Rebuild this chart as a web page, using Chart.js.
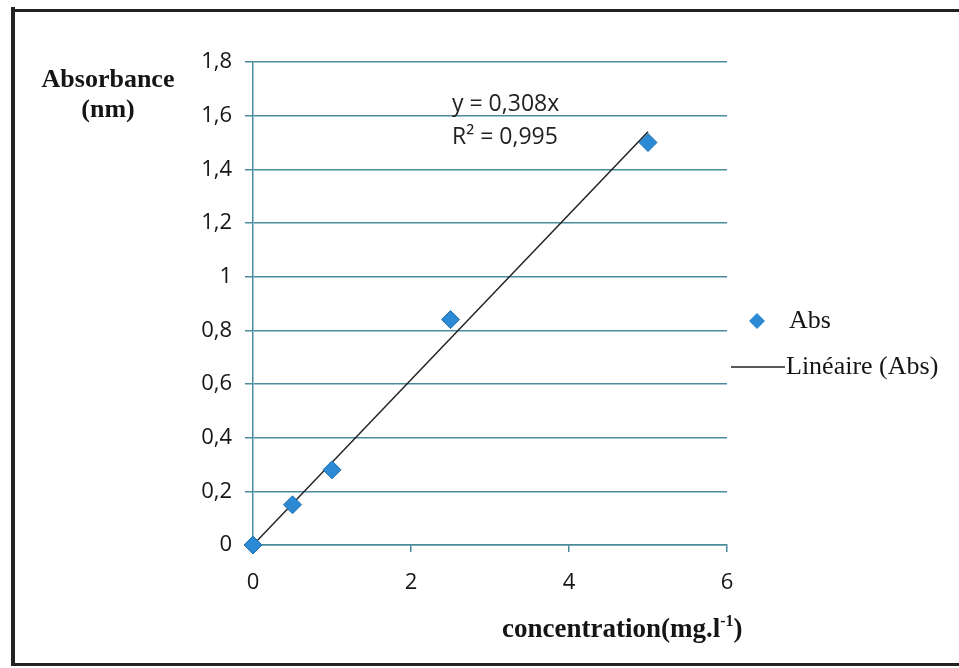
<!DOCTYPE html>
<html>
<head>
<meta charset="utf-8">
<script src="https://cdn.jsdelivr.net/npm/chart.js@4/dist/chart.umd.min.js"></script>
<style>
  html, body { margin: 0; padding: 0; background: #fff; }
  #wrap { width: 959px; height: 668px; position: relative; }
</style>
</head>
<body>
<div id="wrap"><canvas id="calib" width="959" height="668"></canvas></div>
<script>
// calibration data
const concentration = [0, 0.5, 1, 2.5, 5];
const absorbance = [0, 0.15, 0.28, 0.84, 1.5];
// linear fit through origin
const slope = 0.308;
const rSquared = 0.995;

const yMax = 1.8;
const yStep = 0.2;
const xMax = 6;
const xStep = 2;

const gridColor = "#4a8c9c";
const markerColor = "#2b8ad3";
const markerEdge = "#1f6fae";
const inkColor = "#151515";

const fmt = (v) => String(Number(v.toFixed(3))).replace(".", ",");

const points = concentration.map((c, i) => ({ x: c, y: absorbance[i] }));
const xFitEnd = Math.max(...concentration);
const fitLine = [
    { x: 0, y: 0 },
    { x: xFitEnd, y: slope * xFitEnd },
];

// titles, equation, legend and frame
const decor = {
    id: "decor",
    afterDraw(chart) {
        const ctx = chart.ctx;
        ctx.save();

        // frame
        ctx.fillStyle = "#222";
        ctx.fillRect(11, 7, 4, 659);
        ctx.fillRect(11, 9, 948, 3);
        ctx.fillRect(11, 663, 948, 3);

        ctx.fillStyle = inkColor;
        ctx.textBaseline = "middle";

        // y axis title
        ctx.font = "bold 26px 'Liberation Serif'";
        ctx.textAlign = "center";
        ctx.fillText("Absorbance", 108, 80);
        ctx.fillText("(nm)", 108, 110);

        // x axis title with superscript
        ctx.textAlign = "left";
        const base = "concentration(mg.l";
        let x = 502;
        const y = 630;
        ctx.font = "bold 27px 'Liberation Serif'";
        ctx.fillText(base, x, y);
        x += ctx.measureText(base).width;
        ctx.font = "bold 16px 'Liberation Serif'";
        ctx.fillText("-1", x, y - 8);
        x += ctx.measureText("-1").width;
        ctx.font = "bold 27px 'Liberation Serif'";
        ctx.fillText(")", x, y);

        // trendline equation
        ctx.font = "23px 'Open Sans'";
        ctx.fillStyle = "#222";
        ctx.fillText("y = " + fmt(slope) + "x", 452, 104);
        ctx.fillText("R² = " + fmt(rSquared), 452, 137);

        // legend
        ctx.fillStyle = markerColor;
        ctx.beginPath();
        ctx.moveTo(757, 313);
        ctx.lineTo(765, 321);
        ctx.lineTo(757, 329);
        ctx.lineTo(749, 321);
        ctx.closePath();
        ctx.fill();

        ctx.strokeStyle = "#222";
        ctx.lineWidth = 1.5;
        ctx.beginPath();
        ctx.moveTo(731, 367);
        ctx.lineTo(785, 367);
        ctx.stroke();

        ctx.fillStyle = inkColor;
        ctx.font = "26px 'Liberation Serif'";
        ctx.fillText(chart.data.datasets[0].label, 789, 321);
        ctx.fillText(chart.data.datasets[1].label, 786, 367);

        ctx.restore();
    },
};

new Chart(document.getElementById("calib"), {
    type: "scatter",
    data: {
        datasets: [
            {
                label: "Abs",
                data: points,
                pointStyle: "rectRot",
                pointRadius: 9,
                backgroundColor: markerColor,
                borderColor: markerEdge,
                borderWidth: 1,
                clip: false,
                order: 1,
            },
            {
                label: "Linéaire (Abs)",
                type: "line",
                data: fitLine,
                showLine: true,
                pointRadius: 0,
                borderColor: "#222",
                borderWidth: 1.5,
                fill: false,
                order: 2,
            },
        ],
    },
    options: {
        responsive: false,
        animation: false,
        layout: {
            padding: { left: 0, top: 62, right: 232, bottom: 63 },
        },
        plugins: {
            legend: { display: false },
            tooltip: { enabled: false },
        },
        scales: {
            x: {
                type: "linear",
                min: 0,
                max: xMax,
                afterFit: (s) => { s.height = 60; },
                ticks: {
                    stepSize: xStep,
                    padding: 18,
                    color: inkColor,
                    font: { family: "Open Sans", size: 22 },
                },
                grid: {
                    drawOnChartArea: false,
                    drawTicks: true,
                    tickLength: 7,
                    color: gridColor,
                    lineWidth: 1.5,
                },
                border: { display: true, color: gridColor, width: 1.5 },
            },
            y: {
                min: 0,
                max: yMax,
                afterFit: (s) => { s.width = 253; },
                ticks: {
                    stepSize: yStep,
                    padding: 13,
                    color: inkColor,
                    font: { family: "Open Sans", size: 22 },
                    callback: (v) => fmt(v),
                },
                grid: {
                    color: gridColor,
                    lineWidth: 1.5,
                    tickLength: 8,
                },
                border: { display: true, color: gridColor, width: 1.5 },
            },
        },
    },
    plugins: [decor],
});
</script>
</body>
</html>
